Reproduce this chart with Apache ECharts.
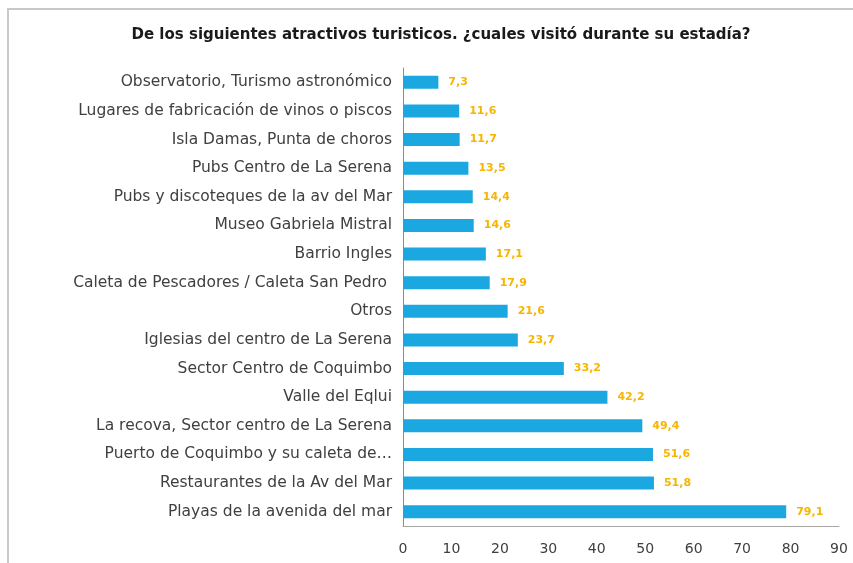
<!DOCTYPE html>
<html>
<head>
<meta charset="utf-8">
<script src="https://cdn.jsdelivr.net/npm/echarts@6/dist/echarts.min.js"></script>
<style>
  html, body { margin: 0; padding: 0; background: #fff; }
  #chart { width: 853px; height: 563px; }
</style>
</head>
<body>
<div id="chart"></div>
<script>
var title = 'De los siguientes atractivos turisticos. ¿cuales visitó durante su estadía?';
// top to bottom as in the picture
var categories = [
  'Observatorio, Turismo astronómico',
  'Lugares de fabricación de vinos o piscos',
  'Isla Damas, Punta de choros',
  'Pubs Centro de La Serena',
  'Pubs y discoteques de la av del Mar',
  'Museo Gabriela Mistral',
  'Barrio Ingles',
  'Caleta de Pescadores / Caleta San Pedro ',
  'Otros',
  'Iglesias del centro de La Serena',
  'Sector Centro de Coquimbo',
  'Valle del Eqlui',
  'La recova, Sector centro de La Serena',
  'Puerto de Coquimbo y su caleta de…',
  'Restaurantes de la Av del Mar',
  'Playas de la avenida del mar'
];
var values = [7.3, 11.6, 11.7, 13.5, 14.4, 14.6, 17.1, 17.9, 21.6, 23.7, 33.2, 42.2, 49.4, 51.6, 51.8, 79.1];

var myChart = echarts.init(document.getElementById('chart'));
var option = {
  animation: false,
  title: {
    text: title,
    left: 436,
    top: 23,
    textAlign: 'center',
    textStyle: { fontFamily: 'DejaVu Sans', fontSize: 15, fontWeight: 'bold', color: '#1a1a1a' }
  },
  graphic: [{
    type: 'rect',
    shape: { x: 8, y: 9, width: 900, height: 600 },
    style: { fill: 'none', stroke: '#c8c8c8', lineWidth: 2 },
    silent: true
  }],
  grid: { left: 403, right: 14, top: 68, bottom: 37 },
  xAxis: {
    type: 'value',
    min: 0,
    max: 90,
    interval: 10,
    splitLine: { show: false },
    axisLine: { show: true, lineStyle: { color: '#a6a6a6' } },
    axisTick: { show: false },
    axisLabel: { color: '#404040', fontFamily: 'DejaVu Sans', fontSize: 14, margin: 16 }
  },
  yAxis: {
    type: 'category',
    inverse: true,
    data: categories,
    axisLine: { show: true, lineStyle: { color: '#8c8c8c' } },
    axisTick: { show: false },
    axisLabel: { color: '#404040', fontFamily: 'DejaVu Sans', fontSize: 15.5, margin: 11 }
  },
  series: [{
    type: 'bar',
    data: values,
    barWidth: 13,
    itemStyle: { color: '#1ba8e0' },
    label: {
      show: true,
      position: 'right',
      distance: 10,
      color: '#f7b500',
      fontFamily: 'DejaVu Sans',
      fontSize: 11,
      fontWeight: 'bold',
      formatter: function (p) { return p.value.toFixed(1).replace('.', ','); }
    }
  }]
};
myChart.setOption(option);
</script>
</body>
</html>
